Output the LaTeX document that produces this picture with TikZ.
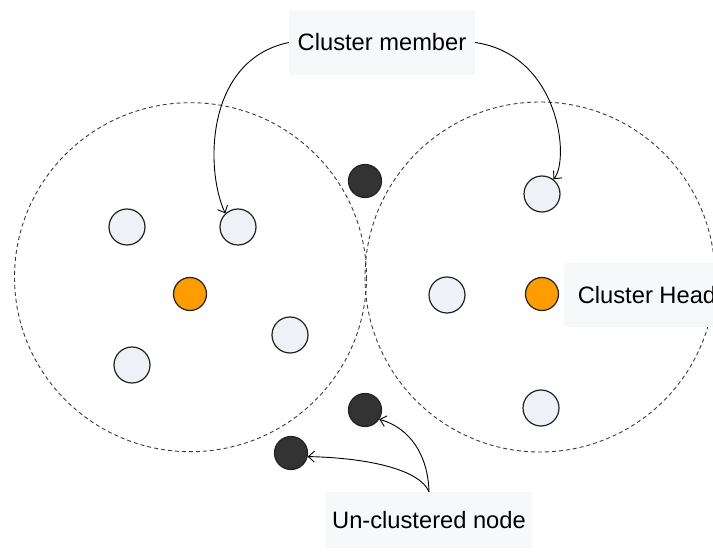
\documentclass[tikz,border=0pt]{standalone}
\usepackage{fontspec}
\setmainfont{Liberation Sans}
\usetikzlibrary{arrows.meta}

\definecolor{memberfill}{HTML}{EEF1F6}
\definecolor{headfill}{HTML}{FF9C00}
\definecolor{loosefill}{HTML}{333333}
\definecolor{labelfill}{HTML}{F7F8FA}
\definecolor{rim}{HTML}{222222}
\definecolor{rangeline}{HTML}{3A3A3A}

\tikzset{
  member/.style={circle, draw=rim, line width=1.2pt, fill=memberfill, minimum size=36pt, inner sep=0pt},
  head/.style={circle, draw=rim, line width=1.2pt, fill=headfill, minimum size=33pt, inner sep=0pt},
  loose/.style={circle, draw=rim, line width=1.2pt, fill=loosefill, minimum size=33pt, inner sep=0pt},
  clusterrange/.style={draw=rangeline, line width=0.9pt, dash pattern=on 4pt off 3pt},
  tag/.style={fill=labelfill, inner sep=0pt, font=\fontsize{23.7}{28}\selectfont},
  pointer/.style={draw=black, line width=0.9pt, -{Straight Barb[length=6pt,width=11pt]}}
}

\begin{document}
\begin{tikzpicture}[x=1pt, y=-1pt]
  \useasboundingbox (0,0) rectangle (713,553);
  \clip (0,0) rectangle (713,553);

  % cluster ranges
  \draw[clusterrange] (190.5,277.2) ellipse [x radius=176, y radius=174.5];
  \draw[clusterrange] (540,277) circle [radius=175];

  % left cluster
  \node[member] (l1) at (127,227) {};
  \node[member] (l2) at (238,227) {};
  \node[member] (l3) at (290,335) {};
  \node[member] (l4) at (132,365) {};
  \node[head]   (h1) at (190,294) {};

  % right cluster
  \node[member] (r1) at (542,194) {};
  \node[member] (r2) at (447,295) {};
  \node[member] (r3) at (541,408) {};
  \node[head]   (h2) at (542,294) {};

  % nodes outside every cluster
  \node[loose] (u1) at (365,181) {};
  \node[loose] (u2) at (365,410) {};
  \node[loose] (u3) at (291,453) {};

  % labels
  \node[tag, minimum width=186pt, minimum height=65pt] (cm) at (382,42.5) {Cluster member};
  \node[tag, minimum width=166pt, minimum height=64pt] (ch) at (647,295) {Cluster Head};
  \node[tag, minimum width=206pt, minimum height=56pt] (un) at (429,520) {Un-clustered node};

  % pointers
  \draw[pointer] (cm.west) .. controls (205,60) and (205,170) .. (l2.133);
  \draw[pointer] (cm.east) .. controls (560,55) and (570,160) .. (r1.52);
  \draw[pointer] (un.north) .. controls (428,455) and (410,428) .. (u2.-33);
  \draw[pointer] (un.north) .. controls (420,470) and (370,458) .. (u3.-12);
\end{tikzpicture}
\end{document}
